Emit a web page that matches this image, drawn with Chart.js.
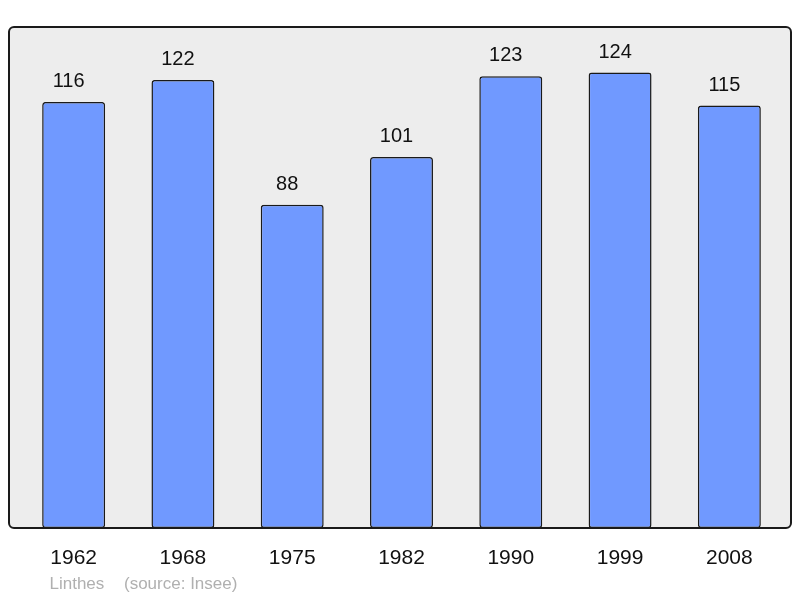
<!DOCTYPE html>
<html>
<head>
<meta charset="utf-8">
<script src="https://cdn.jsdelivr.net/npm/chart.js@4/dist/chart.umd.min.js"></script>
<style>
  html, body { margin: 0; padding: 0; background: #ffffff; }
  #wrap { width: 800px; height: 598px; position: relative; }
</style>
</head>
<body>
<div id="wrap"><canvas id="popChart"></canvas></div>
<script>
// Data
const years = ["1962", "1968", "1975", "1982", "1990", "1999", "2008"];
const population = [116, 122, 88, 101, 123, 124, 115];
const commune = "Linthes";
const sourceNote = "(source: Insee)";

const FONT = "'Liberation Sans', Arial, sans-serif";

// Grey rounded frame behind the bars
const framePlugin = {
    id: "frame",
    beforeDraw(chart) {
        const { ctx, chartArea: a } = chart;
        const x = a.left - 10, y = a.top, w = (a.right + 7) - x, h = a.bottom - a.top;
        ctx.save();
        ctx.beginPath();
        ctx.roundRect(x, y, w, h, 5);
        ctx.fillStyle = "#ededed";
        ctx.fill();
        ctx.restore();
    },
    afterDatasetsDraw(chart) {
        const { ctx, chartArea: a } = chart;
        const x = a.left - 10, y = a.top, w = (a.right + 7) - x, h = a.bottom - a.top;
        ctx.save();
        ctx.beginPath();
        ctx.roundRect(x, y, w, h, 5);
        ctx.lineWidth = 2;
        ctx.strokeStyle = "#1a1a1a";
        ctx.stroke();

        // value labels above each bar
        ctx.font = "20px " + FONT;
        ctx.fillStyle = "#111";
        ctx.textAlign = "center";
        ctx.textBaseline = "alphabetic";
        chart.getDatasetMeta(0).data.forEach((bar, i) => {
            ctx.fillText(String(population[i]), bar.x - 5, bar.y - 15);
        });

        // footer
        ctx.font = "17px " + FONT;
        ctx.fillStyle = "#b0b0b0";
        ctx.textAlign = "left";
        ctx.fillText(commune, 49.5, 589);
        ctx.fillText(sourceNote, 124, 589);
        ctx.restore();
    }
};

new Chart(document.getElementById("popChart"), {
    type: "bar",
    data: {
        labels: years,
        datasets: [{
            data: population,
            backgroundColor: "#7099ff",
            borderColor: "#1a1a1a",
            borderWidth: 1.5,
            borderRadius: 3,
            borderSkipped: false,
            barPercentage: 0.576,
            categoryPercentage: 1
        }]
    },
    options: {
        responsive: true,
        maintainAspectRatio: false,
        animation: false,
        layout: { padding: { left: 19, right: 16, top: 27, bottom: 0 } },
        plugins: { legend: { display: false }, tooltip: { enabled: false } },
        scales: {
            x: {
                grid: { display: false },
                border: { display: false },
                ticks: { color: "#111", font: { family: FONT, size: 21 }, padding: 10, maxRotation: 0 },
                afterFit: s => { s.height = 70; }
            },
            y: {
                display: false,
                min: 0,
                max: 136.4
            }
        }
    },
    plugins: [framePlugin]
});
</script>
</body>
</html>
